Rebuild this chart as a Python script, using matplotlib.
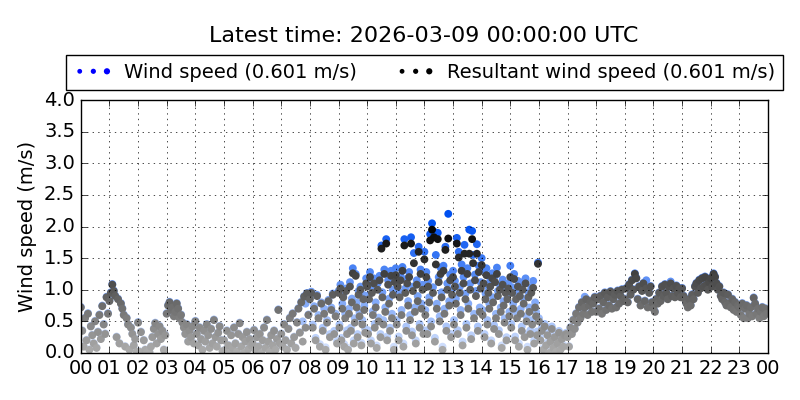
import numpy as np
import pandas as pd
import matplotlib
matplotlib.use("Agg")
import matplotlib.pyplot as plt
import matplotlib.dates as mdates

plt.style.use("classic")

title = "Latest time: 2026-03-09 00:00:00 UTC"
ws_label = "Wind speed (0.601 m/s)"
rws_label = "Resultant wind speed (0.601 m/s)"
day_start = "2026-03-08 00:00"
day_end = "2026-03-09 00:00"

# resultant wind speed (m/s), one row per hour (readings spread evenly in the hour)
rws_rows = [
    [0.72, 0.35, 0.10, 0.55, 0.20, 0.62, 0.05, 0.42, 0.28, 0.15, 0.50, 0.08, 0.33, 0.60, 0.22, 0.74, 0.45, 0.30, 0.88, 0.62],
    [0.82, 0.95, 1.08, 0.98, 0.90, 0.25, 0.85, 0.15, 0.78, 0.70, 0.60, 0.10, 0.55, 0.45, 0.05, 0.40, 0.30, 0.12, 0.22, 0.02],
    [0.48, 0.02, 0.33, 0.00, 0.20, 0.05, 0.00, 0.02, 0.01, 0.10, 0.25, 0.38, 0.47, 0.15, 0.30, 0.42, 0.22, 0.35, 0.05, 0.28],
    [0.62, 0.75, 0.80, 0.68, 0.72, 0.58, 0.65, 0.78, 0.70, 0.55, 0.60, 0.48, 0.40, 0.30, 0.45, 0.18, 0.35, 0.25, 0.42, 0.15],
    [0.50, 0.30, 0.12, 0.40, 0.22, 0.05, 0.35, 0.18, 0.45, 0.28, 0.08, 0.38, 0.15, 0.52, 0.25, 0.10, 0.32, 0.42, 0.20, 0.03],
    [0.20, 0.05, 0.35, 0.12, 0.00, 0.28, 0.08, 0.40, 0.15, 0.02, 0.30, 0.47, 0.10, 0.25, 0.00, 0.18, 0.33, 0.06, 0.22, 0.12],
    [0.15, 0.36, 0.05, 0.25, 0.10, 0.30, 0.00, 0.20, 0.40, 0.08, 0.52, 0.18, 0.02, 0.28, 0.12, 0.35, 0.05, 0.22, 0.68, 0.15],
    [0.30, 0.10, 0.45, 0.20, 0.05, 0.38, 0.55, 0.15, 0.62, 0.25, 0.08, 0.48, 0.70, 0.32, 0.80, 0.18, 0.89, 0.40, 0.94, 0.60],
    [0.85, 0.95, 0.40, 0.70, 0.20, 0.90, 0.55, 0.10, 0.78, 0.35, 0.62, 0.05, 0.48, 0.82, 0.25, 0.68, 0.92, 0.30, 0.58, 0.15],
    [0.95, 0.40, 1.02, 0.20, 0.70, 0.88, 0.10, 0.55, 0.98, 0.30, 0.05, 0.62, 1.05, 0.35, 0.80, 1.26, 0.15, 0.48, 1.22, 0.72,
     0.25, 0.92, 0.58, 1.00, 0.12, 0.45, 0.85, 0.68, 0.32, 1.10],
    [1.05, 0.30, 0.85, 1.20, 0.15, 0.95, 0.60, 1.10, 0.40, 0.72, 0.08, 1.00, 0.50, 1.15, 0.25, 1.65, 0.88, 0.45, 1.25, 0.65,
     1.73, 0.20, 1.08, 0.78, 0.35, 1.22, 0.55, 0.92, 0.05, 1.12],
    [1.23, 0.45, 1.05, 0.20, 0.88, 1.15, 0.60, 1.30, 0.10, 1.70, 0.95, 0.35, 1.10, 0.75, 1.20, 0.52, 1.73, 0.28, 0.98, 1.42,
     0.65, 0.15, 1.08, 0.82, 1.60, 0.40, 1.25, 0.70, 1.00, 0.30],
    [1.48, 0.60, 1.20, 0.30, 1.05, 0.80, 1.78, 0.42, 1.95, 0.95, 1.83, 0.18, 1.40, 0.70, 1.80, 1.12, 0.50, 1.25, 0.88, 0.05,
     1.30, 0.62, 1.63, 0.35, 1.00, 1.81, 0.75, 1.15, 0.25, 0.92],
    [1.20, 0.45, 1.05, 0.78, 1.73, 0.30, 1.51, 0.95, 0.60, 1.30, 0.12, 1.10, 1.57, 0.85, 0.40, 1.25, 0.70, 1.57, 1.00, 0.22,
     1.80, 1.42, 0.55, 1.15, 0.90, 1.57, 0.35, 1.28, 0.65, 1.02],
    [1.39, 0.60, 1.10, 0.25, 0.85, 1.23, 0.45, 0.95, 0.70, 1.05, 0.15, 1.18, 0.80, 0.38, 1.12, 0.55, 1.25, 0.90, 0.30, 1.00,
     0.65, 0.08, 1.08, 0.75, 0.48, 0.95, 0.20, 0.85, 1.02, 0.58],
    [1.20, 0.40, 0.95, 0.70, 1.17, 0.20, 0.85, 0.55, 1.05, 0.10, 0.90, 0.62, 0.35, 1.00, 0.78, 0.25, 1.10, 0.50, 0.05, 0.88,
     0.65, 0.30, 0.95, 0.45, 1.03, 0.15, 0.72, 0.58, 0.28, 1.41],
    [0.50, 0.20, 0.35, 0.05, 0.42, 0.12, 0.28, 0.00, 0.18, 0.38, 0.08, 0.25, 0.02, 0.15, 0.32, 0.05, 0.22, 0.10, 0.28, 0.30],
    [0.25, 0.10, 0.40, 0.30, 0.52, 0.38, 0.62, 0.48, 0.72, 0.55, 0.80, 0.62, 0.72, 0.85, 0.60, 0.75, 0.82, 0.65, 0.78, 0.88],
    [0.65, 0.85, 0.70, 0.90, 0.62, 0.80, 0.95, 0.68, 0.88, 0.75, 0.97, 0.70, 0.85, 0.92, 0.72, 0.98, 0.78, 0.90, 1.00, 0.82],
    [0.85, 1.02, 0.80, 1.08, 0.92, 1.15, 1.00, 1.25, 1.18, 0.85, 1.05, 0.75, 0.98, 1.10, 0.82, 1.02, 0.72, 0.95, 1.05, 0.80],
    [0.70, 0.65, 0.85, 0.78, 0.95, 0.82, 1.05, 0.90, 1.08, 0.95, 0.85, 1.05, 1.10, 0.90, 1.02, 0.88, 1.06, 0.95, 1.02, 0.88],
    [1.02, 0.90, 0.85, 0.78, 0.72, 0.85, 0.75, 0.92, 0.85, 1.05, 1.10, 0.95, 1.15, 1.02, 1.18, 1.05, 1.20, 1.08, 1.00, 1.12],
    [1.18, 1.05, 1.25, 1.20, 1.10, 1.00, 1.05, 0.90, 0.85, 0.95, 0.80, 0.75, 0.92, 0.78, 0.72, 0.85, 0.68, 0.80, 0.65, 0.75],
    [0.72, 0.60, 0.78, 0.55, 0.70, 0.75, 0.55, 0.62, 0.72, 0.58, 0.87, 0.78, 0.62, 0.70, 0.55, 0.65, 0.72, 0.58, 0.70, 0.62],
]

# scalar wind speed (m/s), same layout
ws_rows = [
    [0.73, 0.36, 0.11, 0.56, 0.21, 0.63, 0.06, 0.43, 0.29, 0.16, 0.51, 0.09, 0.34, 0.61, 0.23, 0.75, 0.46, 0.31, 0.89, 0.63],
    [0.83, 0.96, 1.09, 0.99, 0.91, 0.26, 0.86, 0.16, 0.79, 0.71, 0.61, 0.11, 0.56, 0.46, 0.06, 0.41, 0.31, 0.13, 0.23, 0.03],
    [0.49, 0.03, 0.34, 0.01, 0.21, 0.06, 0.01, 0.03, 0.02, 0.11, 0.26, 0.39, 0.48, 0.16, 0.31, 0.43, 0.23, 0.36, 0.06, 0.29],
    [0.63, 0.76, 0.81, 0.69, 0.73, 0.59, 0.66, 0.79, 0.71, 0.56, 0.61, 0.49, 0.41, 0.31, 0.46, 0.19, 0.36, 0.26, 0.43, 0.16],
    [0.51, 0.31, 0.13, 0.41, 0.23, 0.06, 0.36, 0.19, 0.46, 0.29, 0.09, 0.39, 0.16, 0.53, 0.26, 0.11, 0.33, 0.43, 0.21, 0.04],
    [0.21, 0.06, 0.36, 0.13, 0.01, 0.29, 0.09, 0.41, 0.16, 0.03, 0.31, 0.48, 0.11, 0.26, 0.01, 0.19, 0.34, 0.07, 0.23, 0.13],
    [0.16, 0.37, 0.06, 0.26, 0.11, 0.31, 0.01, 0.21, 0.41, 0.09, 0.53, 0.19, 0.03, 0.29, 0.13, 0.36, 0.06, 0.23, 0.69, 0.16],
    [0.31, 0.11, 0.46, 0.21, 0.06, 0.39, 0.56, 0.16, 0.63, 0.26, 0.09, 0.49, 0.71, 0.33, 0.81, 0.50, 0.90, 0.78, 0.95, 0.61],
    [0.87, 0.97, 0.45, 0.74, 0.24, 0.92, 0.60, 0.14, 0.80, 0.40, 0.70, 0.09, 0.52, 0.84, 0.30, 0.72, 0.94, 0.35, 0.62, 0.19],
    [0.98, 0.45, 1.08, 0.24, 0.78, 0.92, 0.14, 0.62, 1.02, 0.36, 0.08, 0.70, 1.12, 0.40, 0.86, 1.34, 0.20, 0.55, 1.25, 0.80,
     0.30, 0.98, 0.64, 1.05, 0.16, 0.52, 0.92, 0.75, 0.38, 1.18],
    [1.15, 0.36, 0.92, 1.28, 0.20, 1.05, 0.66, 1.18, 0.46, 0.80, 0.12, 1.10, 0.56, 1.22, 0.30, 1.70, 0.96, 0.52, 1.32, 0.72,
     1.80, 0.26, 1.15, 0.86, 0.40, 1.30, 0.62, 1.00, 0.10, 1.20],
    [1.34, 0.52, 1.12, 0.26, 0.96, 1.22, 0.68, 1.36, 0.15, 1.80, 1.02, 0.42, 1.18, 0.82, 1.28, 0.60, 1.83, 0.34, 1.05, 1.58,
     0.72, 0.20, 1.15, 0.90, 1.68, 0.46, 1.32, 0.78, 1.08, 0.36],
    [1.60, 0.68, 1.28, 0.36, 1.14, 0.88, 1.88, 0.50, 2.05, 1.04, 1.92, 0.24, 1.55, 0.78, 1.90, 1.20, 0.58, 1.35, 0.96, 0.10,
     1.38, 0.70, 1.68, 0.42, 1.10, 2.20, 0.82, 1.24, 0.30, 1.00],
    [1.30, 0.52, 1.14, 0.86, 1.82, 0.36, 1.60, 1.04, 0.68, 1.40, 0.18, 1.20, 1.71, 0.94, 0.46, 1.34, 0.78, 1.95, 1.10, 0.28,
     1.93, 1.55, 0.62, 1.24, 0.98, 1.72, 0.42, 1.38, 0.72, 1.12],
    [1.50, 0.68, 1.31, 0.30, 0.94, 1.34, 0.52, 1.04, 0.78, 1.14, 0.20, 1.26, 0.88, 0.44, 1.22, 0.62, 1.35, 0.98, 0.36, 1.08,
     0.72, 0.12, 1.16, 0.82, 0.55, 1.04, 0.25, 0.92, 1.10, 0.65],
    [1.38, 0.46, 1.04, 0.78, 1.25, 0.26, 0.94, 0.62, 1.14, 0.15, 0.98, 0.70, 0.42, 1.12, 0.86, 0.30, 1.18, 0.58, 0.10, 0.96,
     0.72, 0.36, 1.04, 0.52, 1.14, 0.20, 0.80, 0.65, 0.34, 1.43],
    [0.55, 0.25, 0.40, 0.08, 0.46, 0.16, 0.32, 0.02, 0.22, 0.42, 0.11, 0.28, 0.04, 0.18, 0.35, 0.07, 0.25, 0.13, 0.30, 0.32],
    [0.26, 0.11, 0.41, 0.31, 0.53, 0.39, 0.63, 0.49, 0.73, 0.56, 0.81, 0.63, 0.89, 0.86, 0.61, 0.76, 0.83, 0.66, 0.79, 0.89],
    [0.66, 0.86, 0.71, 0.91, 0.63, 0.81, 0.96, 0.69, 0.89, 0.76, 0.98, 0.71, 0.86, 0.93, 0.73, 0.99, 0.79, 0.91, 1.01, 0.83],
    [0.86, 1.03, 0.81, 1.09, 0.93, 1.16, 1.01, 1.26, 1.19, 0.86, 1.06, 0.76, 0.99, 1.11, 0.83, 1.15, 0.73, 0.96, 1.06, 0.81],
    [0.71, 0.66, 0.86, 0.79, 0.96, 0.83, 1.06, 0.91, 1.09, 0.96, 0.86, 1.06, 1.13, 0.91, 1.03, 0.89, 1.07, 0.96, 1.03, 0.89],
    [1.03, 0.91, 0.86, 0.79, 0.73, 0.86, 0.76, 0.93, 0.86, 1.06, 1.11, 0.96, 1.16, 1.03, 1.19, 1.06, 1.21, 1.09, 1.01, 1.13],
    [1.19, 1.06, 1.26, 1.21, 1.11, 1.01, 1.06, 0.91, 0.86, 0.96, 0.81, 0.76, 0.93, 0.79, 0.73, 0.86, 0.69, 0.81, 0.66, 0.76],
    [0.73, 0.61, 0.79, 0.56, 0.71, 0.76, 0.56, 0.63, 0.73, 0.59, 0.88, 0.79, 0.63, 0.71, 0.56, 0.66, 0.73, 0.59, 0.71, 0.63],
]


def row_times(rows):
    # each hour's readings are evenly spaced inside that hour
    stamps = []
    for hour, row in enumerate(rows):
        step = 60.0 / len(row)
        stamps += [pd.Timestamp(day_start) + pd.Timedelta(minutes=hour * 60 + i * step)
                   for i in range(len(row))]
    return stamps


def shade(values, base, lo, gain):
    # stronger colour for stronger wind, fading towards white when calm
    frac = np.clip(lo + gain * values, 0, 1)[:, None]
    base = np.array(matplotlib.colors.to_rgb(base))
    return 1 - frac * (1 - base)


ws = np.concatenate(ws_rows)
rws = np.concatenate(rws_rows)
t_ws = row_times(ws_rows)
t_rws = row_times(rws_rows)

fig = plt.figure(figsize=(8, 4), dpi=100, facecolor="white")
ax = fig.add_axes([0.101, 0.1175, 0.859, 0.6325])

ax.scatter(t_ws, ws, s=32, c=shade(ws, "#0050f0", 0.15, 0.42),
           edgecolors="none", label=ws_label)
ax.scatter(t_rws, rws, s=32, c=shade(rws, "black", 0.32, 0.34),
           edgecolors="none", label=rws_label)

ax.set_ylim(0, 4)
ax.set_yticks(np.arange(0, 4.01, 0.5))
ax.yaxis.set_major_formatter(matplotlib.ticker.FormatStrFormatter("%.1f"))
ax.set_xlim(pd.Timestamp(day_start), pd.Timestamp(day_end))
ax.xaxis.set_major_locator(mdates.HourLocator(interval=1))
ax.xaxis.set_major_formatter(mdates.DateFormatter("%H"))
ax.tick_params(labelsize=14)
ax.grid(True, color="black", linestyle=":")
ax.set_ylabel("Wind speed (m/s)", fontsize=14)

leg = ax.legend(loc="lower center", bbox_to_anchor=(0.5, 1.04), ncol=2,
                fontsize=14, scatterpoints=3, scatteryoffsets=[0.5],
                borderaxespad=0, fancybox=False, handletextpad=0.6)
for h, col in zip(leg.legend_handles, ["blue", "black"]):
    h.set_facecolor(col)
    h.set_sizes([12, 14, 20])

fig.text(0.53, 0.91, title, fontsize=16, ha="center", va="center")

fig.savefig("out.png", dpi=100, facecolor="white")
